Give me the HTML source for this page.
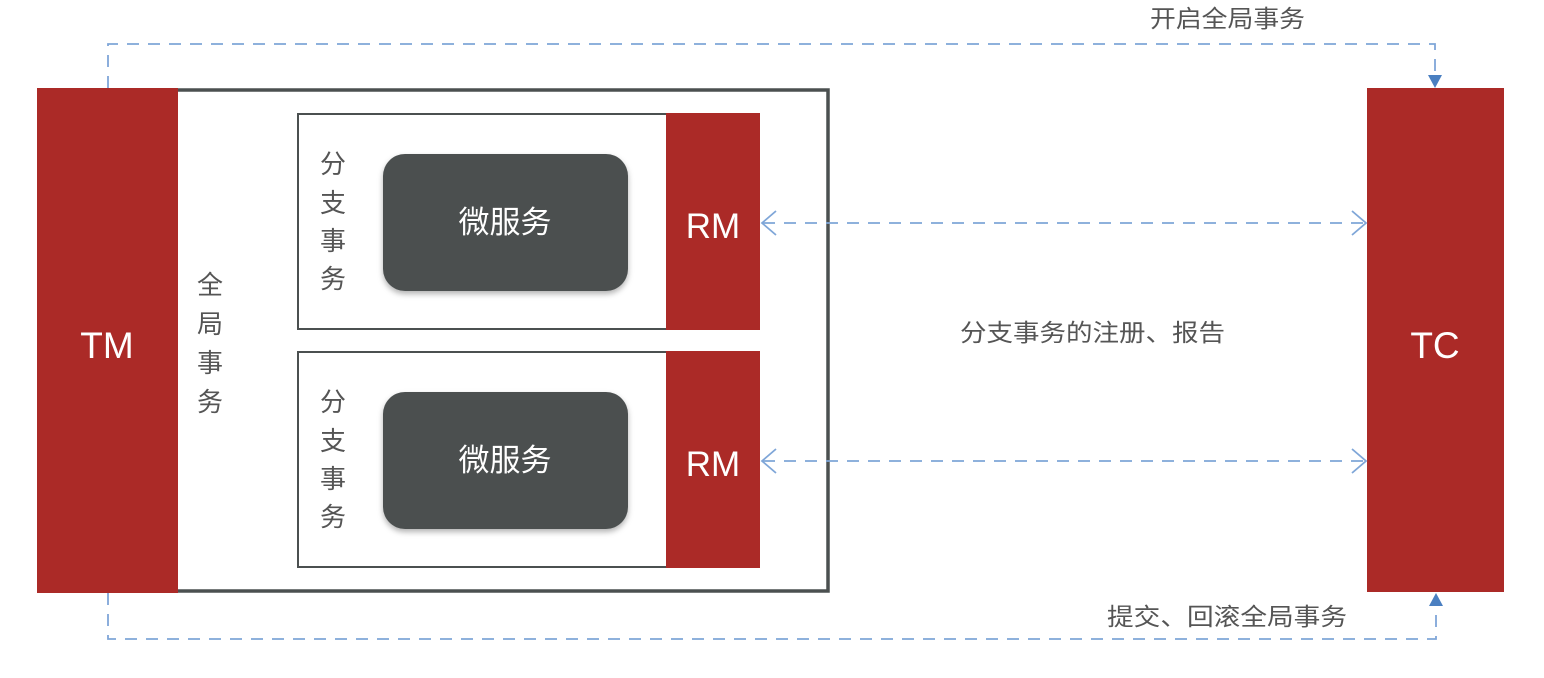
<!DOCTYPE html>
<html><head><meta charset="utf-8"><style>
html,body{margin:0;padding:0;background:#fff;}
svg{display:block;}
text{font-family:"Liberation Sans","Noto Sans CJK SC",sans-serif;}
</style></head><body>
<svg width="1544" height="678" viewBox="0 0 1544 678" xmlns="http://www.w3.org/2000/svg">
<defs>
<filter id="sh" x="-10%" y="-10%" width="120%" height="130%"><feDropShadow dx="0" dy="3" stdDeviation="3" flood-color="#000" flood-opacity="0.3"/></filter>
</defs>
<polyline points="108,88 108,44 1435,44 1435,78" fill="none" stroke="#7fa6d8" stroke-width="1.8" stroke-dasharray="12,9"/>
<polygon points="1428,75 1442,75 1435,88" fill="#4a7fc1"/>
<text x="1150" y="27" font-size="24" fill="#555" textLength="155" lengthAdjust="spacingAndGlyphs">开启全局事务</text>
<polyline points="108,593 108,639 1436,639 1436,605" fill="none" stroke="#7fa6d8" stroke-width="1.8" stroke-dasharray="12,9"/>
<polygon points="1429,606 1443,606 1436,593" fill="#4a7fc1"/>
<text x="1107" y="625" font-size="24" fill="#555" textLength="240" lengthAdjust="spacingAndGlyphs">提交、回滚全局事务</text>
<rect x="140" y="90" width="688" height="501" fill="#fff" stroke="#4b5050" stroke-width="3.5"/>
<rect x="37" y="88" width="141" height="505" fill="#ab2a27"/>
<text x="107" y="358" font-size="37" fill="#fff" text-anchor="middle">TM</text>
<rect x="1367" y="88" width="137" height="504" fill="#ab2a27"/>
<text x="1435" y="358" font-size="37" fill="#fff" text-anchor="middle">TC</text>
<g font-size="26" fill="#555" text-anchor="middle">
<text x="210" y="294">全</text><text x="210" y="333">局</text><text x="210" y="372">事</text><text x="210" y="411">务</text>
</g>
<rect x="298" y="114" width="412" height="215" fill="#fff" stroke="#4b5050" stroke-width="2"/>
<rect x="666" y="113" width="94" height="217" fill="#ab2a27"/>
<text x="713" y="238" font-size="35" fill="#fff" text-anchor="middle">RM</text>
<rect x="383" y="154" width="245" height="137" rx="22" fill="#4b5050" filter="url(#sh)"/>
<text x="505" y="233" font-size="31" fill="#fff" text-anchor="middle">微服务</text>
<g font-size="26" fill="#555" text-anchor="middle">
<text x="333" y="173">分</text><text x="333" y="212">支</text><text x="333" y="250">事</text><text x="333" y="288">务</text>
</g>
<rect x="298" y="352" width="412" height="215" fill="#fff" stroke="#4b5050" stroke-width="2"/>
<rect x="666" y="351" width="94" height="217" fill="#ab2a27"/>
<text x="713" y="476" font-size="35" fill="#fff" text-anchor="middle">RM</text>
<rect x="383" y="392" width="245" height="137" rx="22" fill="#4b5050" filter="url(#sh)"/>
<text x="505" y="471" font-size="31" fill="#fff" text-anchor="middle">微服务</text>
<g font-size="26" fill="#555" text-anchor="middle">
<text x="333" y="411">分</text><text x="333" y="450">支</text><text x="333" y="488">事</text><text x="333" y="526">务</text>
</g>
<g fill="none" stroke="#7fa6d8" stroke-width="1.8">
<line x1="763" y1="223" x2="1365" y2="223" stroke-dasharray="12,9"/>
<polyline points="776,211 762,223 776,235"/>
<polyline points="1352,211 1366,223 1352,235"/>
<line x1="763" y1="461" x2="1365" y2="461" stroke-dasharray="12,9"/>
<polyline points="776,449 762,461 776,473"/>
<polyline points="1352,449 1366,461 1352,473"/>
</g>
<text x="960" y="341" font-size="24" fill="#555" textLength="265" lengthAdjust="spacingAndGlyphs">分支事务的注册、报告</text>
</svg>
</body></html>
